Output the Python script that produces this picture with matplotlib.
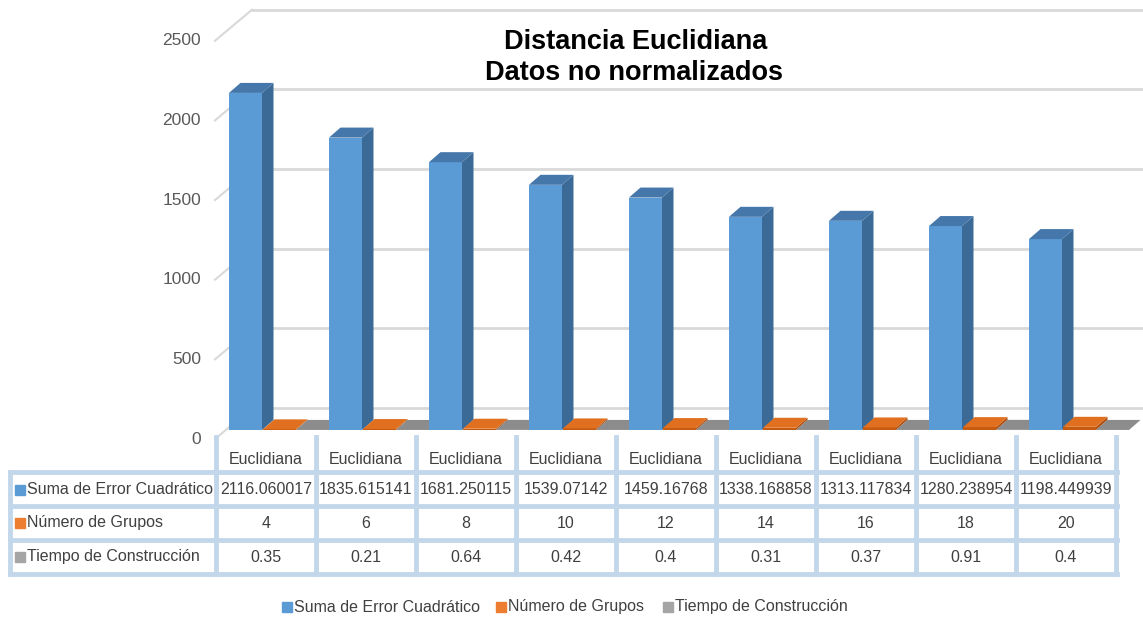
"""Distancia Euclidiana - Excel style 3D column chart with data table."""
import matplotlib
matplotlib.use("Agg")
import matplotlib.pyplot as plt
from matplotlib.patches import Polygon

plt.rcParams["font.family"] = ["Liberation Sans", "DejaVu Sans"]

# data
categorias = ["Euclidiana"] * 9
suma_error = [2116.060017, 1835.615141, 1681.250115, 1539.07142, 1459.16768,
              1338.168858, 1313.117834, 1280.238954, 1198.449939]
num_grupos = [4, 6, 8, 10, 12, 14, 16, 18, 20]
tiempo = [0.35, 0.21, 0.64, 0.42, 0.4, 0.31, 0.37, 0.91, 0.4]
series_names = ["Suma de Error Cuadrático", "Número de Grupos", "Tiempo de Construcción"]
y_ticks = [0, 500, 1000, 1500, 2000, 2500]

W, H = 1143, 621
PX_X = 100.0     # pixels per category
PX_Y = 0.1593    # pixels per value unit
X_ORIG, Y_ORIG = 215, 430   # pixel position of (0, 0) on bar plane

TXT = "#404040"
GRID = "#D9D9D9"
TABLE = "#C3D7EB"
FS = 11.5

# faces: front, side, top
COLORS = [("#5B9BD5", "#3C6A96", "#4577AA"),
          ("#C55A11", "#B04F0F", "#E0701F"),
          ("#7F7F7F", "#6E6E6E", "#8C8C8C")]
SQUARES = ["#5B9BD5", "#ED7D31", "#A5A5A5"]

fig = plt.figure(figsize=(W / 100, H / 100), dpi=100)
ax = fig.add_axes([0, 0, 1, 1])
ax.set_xlim(-X_ORIG / PX_X, (W - X_ORIG) / PX_X)
ax.set_ylim(-(H - Y_ORIG) / PX_Y, Y_ORIG / PX_Y)
ax.axis("off")

# depth of the bars and of the walls, in data units
dx, dy = 11.5 / PX_X, 10 / PX_Y
back_dx, back_dy = 37 / PX_X, 22 / PX_Y
front_dy = 9 / PX_Y

# back wall gridlines + left wall stubs, tick labels
for v in y_ticks:
    ax.plot([0, back_dx], [v - front_dy, v + back_dy], color=GRID, lw=1.5, zorder=1)
    ax.plot([back_dx, ax.get_xlim()[1]], [v + back_dy, v + back_dy],
            color=GRID, lw=2, zorder=1)
    ax.text(-0.14, v - front_dy, str(v), ha="right", va="center",
            fontsize=12.5, color="#595959")


def bar3d(x0, x1, v, cols, z):
    front, side, top = cols
    ax.add_patch(Polygon([(x0, 0), (x1, 0), (x1, v), (x0, v)],
                         closed=True, fc=front, ec="none", zorder=z))
    ax.add_patch(Polygon([(x1, 0), (x1 + dx, dy), (x1 + dx, v + dy), (x1, v)],
                         closed=True, fc=side, ec="none", zorder=z))
    ax.add_patch(Polygon([(x0, v), (x0 + dx, v + dy), (x1 + dx, v + dy), (x1, v)],
                         closed=True, fc=top, ec="none", zorder=z))


offsets = [(0.14, 0.47), (0.48, 0.81), (0.81, 1.14)]
z = 2
for i in range(len(categorias)):
    for s, vals in enumerate([suma_error, num_grupos, tiempo]):
        a, b = offsets[s]
        bar3d(i + a, i + b, vals[i], COLORS[s], z)
        z += 1

# title
ax.text(636 / W, 1 - 42 / H, "Distancia Euclidiana", transform=ax.transAxes,
        ha="center", va="center", fontsize=19.5, fontweight="bold", color="black")
ax.text(634 / W, 1 - 73 / H, "Datos no normalizados", transform=ax.transAxes,
        ha="center", va="center", fontsize=19.5, fontweight="bold", color="black")


# data table (pixel layout)
def fx(px):
    return px / W


def fy(py):
    return 1 - py / H


tr = ax.transAxes
for py in [472, 506, 540, 574]:
    ax.plot([fx(10), fx(1117)], [fy(py), fy(py)], color=TABLE, lw=3.5,
            transform=tr, zorder=20)
ax.plot([fx(10), fx(10)], [fy(472), fy(574)], color=TABLE, lw=3.5,
        transform=tr, zorder=20)
for k in range(len(categorias) + 1):
    xk = 216 + 100 * k
    ax.plot([fx(xk), fx(xk)], [fy(437), fy(574)], color=TABLE, lw=3.5,
            transform=tr, zorder=20)

rows = [[str(v) for v in suma_error], [str(v) for v in num_grupos],
        [str(v) for v in tiempo]]
row_y = [490, 523, 557]
for k, cat in enumerate(categorias):
    ax.text(fx(266 + 100 * k), fy(460), cat, transform=tr, ha="center",
            va="center", fontsize=FS, color=TXT, zorder=21)
    for r in range(3):
        ax.text(fx(266 + 100 * k), fy(row_y[r]), rows[r][k], transform=tr,
                ha="center", va="center", fontsize=FS, color=TXT, zorder=21)

for r in range(3):
    ax.plot(fx(20), fy(row_y[r]), marker="s", ms=6.5, color=SQUARES[r],
            transform=tr, zorder=21)
    ax.text(fx(27), fy(row_y[r]), series_names[r], transform=tr, ha="left",
            va="center", fontsize=FS, color=TXT, zorder=21)

# legend
leg_x = [287, 501, 668]
for s in range(3):
    ax.plot(fx(leg_x[s]), fy(607), marker="s", ms=6.5, color=SQUARES[s],
            transform=tr)
    ax.text(fx(leg_x[s] + 7), fy(607), series_names[s], transform=tr,
            ha="left", va="center", fontsize=FS, color=TXT)

fig.savefig("out.png", dpi=100)
